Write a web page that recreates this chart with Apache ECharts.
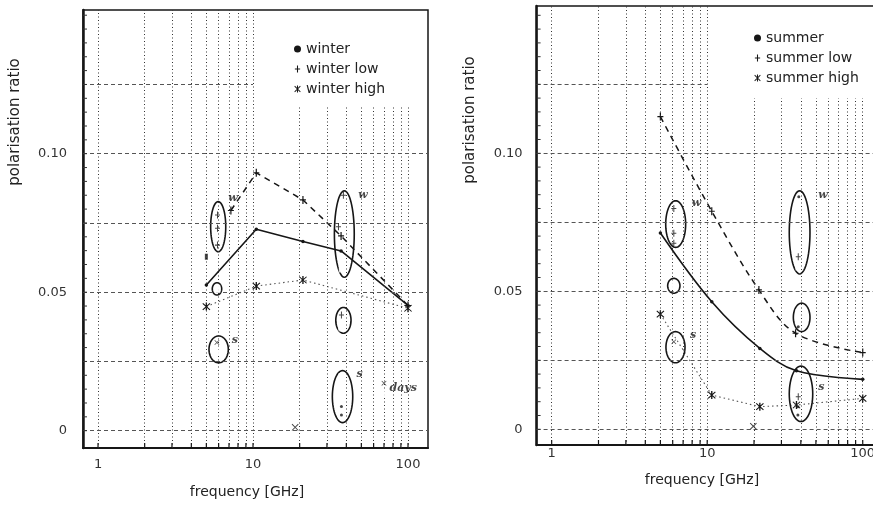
<!DOCTYPE html>
<html>
<head>
<meta charset="utf-8">
<title>Polarisation ratio vs frequency</title>
<script src="https://cdn.jsdelivr.net/npm/echarts@6/dist/echarts.min.js"></script>
<style>
  html, body { margin: 0; padding: 0; background: #fff; }
  #chart { width: 873px; height: 505px; }
</style>
</head>
<body>
<div id="chart"></div>
<script>
// ---- axes ----
const freqLabels = [1, 10, 100];
const freqGrid = [1, 2, 3, 4, 5, 6, 7, 8, 9, 10, 20, 30, 40, 50, 60, 70, 80, 90, 100];
const ratioLabels = [0, 0.05, 0.10];
const ratioGrid = [0, 0.025, 0.05, 0.075, 0.10, 0.125];

// ---- winter panel ----
const winter = [[5, 0.0526], [10.5, 0.0727], [21, 0.0683], [37, 0.0649], [100, 0.0452]];
const winterLow = [[7.2, 0.0795], [10.5, 0.0931], [21, 0.0833], [37, 0.0703], [100, 0.0452]];
const winterLowExtra = [[5, 0.0628]];
const winterHigh = [[5, 0.0448], [10.5, 0.0522], [21, 0.0544], [100, 0.0442]];
const winterHighExtra = [[18.7, 0.0012]];

// individual cases marked inside the hand-drawn rings
const winterCasePlus = [[5.9, 0.0779], [5.9, 0.0731], [5.9, 0.0670], [35.6, 0.0736], [38.3, 0.0850], [37.2, 0.0418]];
const winterCaseBox = [[5.9, 0.0512], [37.3, 0.0586], [37.2, 0.0193]];
const winterCaseCross = [[5.85, 0.0318], [70, 0.0171]];
const winterCaseRing = [[5.85, 0.0282], [37.2, 0.0370], [37.2, 0.0113], [70, 0.0131]];
const winterCaseDot = [[37.2, 0.0087], [37.2, 0.0057]];
// rings: [f left, f right, ratio bottom, ratio top]
const winterRings = [
  [5.33, 6.67, 0.0646, 0.0827],
  [5.46, 6.28, 0.0490, 0.0534],
  [5.20, 6.93, 0.0245, 0.0342],
  [33.5, 45.0, 0.0554, 0.0866],
  [34.2, 42.9, 0.0352, 0.0445],
  [32.5, 44.0, 0.0029, 0.0217]
];
const winterNotes = [[6.93, 0.0839, 'w'], [7.3, 0.0327, 's'], [47.8, 0.0851, 'w'], [46.6, 0.0205, 's'], [76, 0.0153, 'days']];

// ---- summer panel ----
const summer = [[5, 0.0711], [10.7, 0.0462], [21.8, 0.0293], [37.5, 0.0212], [100, 0.0181]];
const summerLow = [[5, 0.1133], [10.7, 0.0790], [21.5, 0.0505], [37, 0.0348], [100, 0.0278]];
const summerHigh = [[5, 0.0417], [10.7, 0.0124], [21.8, 0.0082], [37.5, 0.0088], [100, 0.0112]];
const summerHighExtra = [[19.8, 0.0011]];

const summerCasePlus = [[6.1, 0.0800], [6.1, 0.0710], [6.1, 0.0674], [38.5, 0.0625], [38.5, 0.0118]];
const summerCaseBox = [[6.1, 0.0523], [38.5, 0.0592], [38.5, 0.0420]];
const summerCaseCross = [[6.1, 0.0317]];
const summerCaseRing = [[6.1, 0.0287]];
const summerCaseDot = [[38.8, 0.0843], [38.5, 0.0372], [38.3, 0.0082], [38.3, 0.0052]];
const summerRings = [
  [5.41, 7.27, 0.0659, 0.0828],
  [5.57, 6.68, 0.0493, 0.0547],
  [5.43, 7.20, 0.0241, 0.0354],
  [33.7, 45.8, 0.0563, 0.0864],
  [35.8, 45.8, 0.0354, 0.0457],
  [33.7, 47.7, 0.0028, 0.0229]
];
const summerNotes = [[7.95, 0.0819, 'w'], [7.76, 0.0342, 's'], [51.8, 0.0849, 'w'], [51.8, 0.0154, 's']];

// ---- styling ----
const FONT = 'DejaVu Sans';
const INK = '#161616';
const X_MIN = 0.8, X_MAX = 134.6;

const plusIcon = 'path://M-0.6,-4h1.2v8h-1.2zM-3,-0.6h6v1.2h-6z';
const starIcon = 'path://M-0.6,-4h1.2v8h-1.2zM-3.6,-2.9L-2.9,-3.6L3.6,2.9L2.9,3.6zM2.9,-3.6L3.6,-2.9L-2.9,3.6L-3.6,2.9z';
const crossIcon = 'path://M-3.6,-2.9L-2.9,-3.6L3.6,2.9L2.9,3.6zM2.9,-3.6L3.6,-2.9L-2.9,3.6L-3.6,2.9z';

const panels = [
  { grid: { left: 83, top: 10, width: 345, height: 438 }, yMin: -0.00625, yMax: 0.15188, topV: 0.117, xMargin: 10, yMargin: 16 },
  { grid: { left: 536.6, top: 6, width: 346.2, height: 439 }, yMin: -0.00569, yMax: 0.15337, topV: 0.12, xMargin: 2, yMargin: 14 }
];

// minor ratio ticks every 0.005 along the left edge
const minorRatioTicks = [];
for (let i = 0; i <= 30; i++) minorRatioTicks.push(+(i * 0.005).toFixed(3));

function isDecade(v) {
  const l = Math.log10(v);
  return v >= 1 && Math.abs(l - Math.round(l)) < 1e-6;
}

function gridMarkLines(p) {
  const vStyle = { color: '#333', width: 1, type: [1, 2.5] };
  const hStyle = { color: '#555', width: 1, type: [4, 3] };
  const data = [];
  freqGrid.forEach(f => {
    if (f >= 20) data.push([{ coord: [f, p.yMin], lineStyle: vStyle }, { coord: [f, p.topV], lineStyle: vStyle }]);
    else data.push({ xAxis: f, lineStyle: vStyle });
  });
  ratioGrid.forEach(v => {
    if (v > 0.12) data.push([{ coord: [X_MIN, v], lineStyle: hStyle }, { coord: [10, v], lineStyle: hStyle }]);
    else data.push({ yAxis: v, lineStyle: hStyle });
  });
  return { silent: true, precision: 6, symbol: ['none', 'none'], label: { show: false }, animation: false, data };
}

function ringSeries(idx, rings) {
  return {
    type: 'custom', xAxisIndex: idx, yAxisIndex: idx, silent: true, z: 4,
    encode: { x: [0, 1], y: [2, 3] },
    data: rings,
    renderItem: (params, api) => {
      const a = api.coord([api.value(0), api.value(2)]);
      const b = api.coord([api.value(1), api.value(3)]);
      const cx = (a[0] + b[0]) / 2, cy = (a[1] + b[1]) / 2;
      const rx = Math.abs(b[0] - a[0]) / 2, ry = Math.abs(b[1] - a[1]) / 2;
      const pts = [];
      for (let k = 0; k < 60; k++) {
        const t = (k / 60) * Math.PI * 2;
        pts.push([cx + rx * Math.cos(t), cy + ry * Math.sin(t)]);
      }
      return { type: 'polygon', shape: { points: pts }, style: { fill: 'none', stroke: INK, lineWidth: 1.6 } };
    }
  };
}

// short inward ticks on the frequency axis
function freqTickSeries(idx, p) {
  return {
    type: 'custom', xAxisIndex: idx, yAxisIndex: idx, silent: true, z: 5,
    encode: { x: 0, y: 1 },
    data: freqGrid.map(f => [f, p.yMin]),
    renderItem: (params, api) => {
      const q = api.coord([api.value(0), api.value(1)]);
      return { type: 'line', shape: { x1: q[0], y1: q[1], x2: q[0], y2: q[1] - 5 }, style: { stroke: INK, lineWidth: 1.2 } };
    }
  };
}

// short inward ticks on the ratio axis
function ratioTickSeries(idx) {
  return {
    type: 'custom', xAxisIndex: idx, yAxisIndex: idx, silent: true, z: 5,
    encode: { x: 0, y: 1 },
    data: minorRatioTicks.map(v => [X_MIN, v]),
    renderItem: (params, api) => {
      const q = api.coord([api.value(0), api.value(1)]);
      return { type: 'line', shape: { x1: q[0], y1: q[1], x2: q[0] + 4, y2: q[1] }, style: { stroke: '#333', lineWidth: 1 } };
    }
  };
}

function caseSeries(idx, name, data, symbol, size, hollow) {
  return {
    type: 'scatter', name, xAxisIndex: idx, yAxisIndex: idx, data, symbol, symbolSize: size, silent: true, z: 5,
    itemStyle: hollow ? { color: '#fff', borderColor: INK, borderWidth: 1.3 } : { color: INK }
  };
}

function noteSeries(idx, data) {
  return {
    type: 'scatter', xAxisIndex: idx, yAxisIndex: idx, data, symbolSize: 0, silent: true, z: 6,
    label: {
      show: true, position: 'right', distance: 0,
      formatter: p => p.data[2],
      fontFamily: 'DejaVu Serif', fontStyle: 'italic', fontWeight: 'bold', fontSize: 11, color: INK
    }
  };
}

function mainLine(idx, name, data, lineStyle, symbol, size, smooth, extra) {
  return Object.assign({
    type: 'line', name, xAxisIndex: idx, yAxisIndex: idx, data, smooth: smooth || false,
    symbol, symbolSize: size, showSymbol: true, z: 3,
    lineStyle, itemStyle: { color: INK }
  }, extra || {});
}

const titleFont = '15px "DejaVu Sans"';

const option = {
  animation: false,
  backgroundColor: '#fff',
  grid: panels.map(p => Object.assign({
    show: true, borderColor: INK, borderWidth: 1.5, backgroundColor: 'transparent',
    containLabel: false, outerBoundsMode: 'none'
  }, p.grid)),
  xAxis: panels.map((p, i) => ({
    type: 'log', gridIndex: i, min: X_MIN, max: X_MAX, logBase: 10,
    axisLine: { show: true, onZero: false, lineStyle: { color: INK, width: 2 } },
    axisTick: { show: false },
    splitLine: { show: false },
    axisLabel: {
      margin: p.xMargin, color: '#333', fontFamily: FONT, fontSize: 13,
      formatter: v => (isDecade(v) && freqLabels.indexOf(Math.round(v)) >= 0 ? String(Math.round(v)) : '')
    }
  })),
  yAxis: panels.map((p, i) => ({
    type: 'value', gridIndex: i, min: p.yMin, max: p.yMax,
    axisLine: { show: true, onZero: false, lineStyle: { color: INK, width: 2.5 } },
    axisTick: { show: false },
    splitLine: { show: false },
    axisLabel: {
      customValues: ratioLabels, margin: p.yMargin, color: '#333', fontFamily: FONT, fontSize: 13,
      padding: [0, 0, 14, 0],
      formatter: v => (Math.abs(v) < 1e-9 ? '0' : v.toFixed(2))
    }
  })),
  legend: [
    {
      orient: 'vertical', left: 289, top: 37, itemWidth: 7, itemHeight: 7, itemGap: 6, selectedMode: false,
      textStyle: { fontFamily: FONT, fontSize: 14, color: '#222' },
      data: [{ name: 'winter', icon: 'circle' }, { name: 'winter low', icon: plusIcon }, { name: 'winter high', icon: starIcon }]
    },
    {
      orient: 'vertical', left: 749, top: 26, itemWidth: 7, itemHeight: 7, itemGap: 6, selectedMode: false,
      textStyle: { fontFamily: FONT, fontSize: 14, color: '#222' },
      data: [{ name: 'summer', icon: 'circle' }, { name: 'summer low', icon: plusIcon }, { name: 'summer high', icon: starIcon }]
    }
  ],
  graphic: [
    { type: 'text', x: 15, y: 122, rotation: Math.PI / 2, style: { text: 'polarisation ratio', font: titleFont, fill: '#222', align: 'center', verticalAlign: 'middle' } },
    { type: 'text', x: 470, y: 120, rotation: Math.PI / 2, style: { text: 'polarisation ratio', font: titleFont, fill: '#222', align: 'center', verticalAlign: 'middle' } },
    { type: 'text', x: 247, y: 492, style: { text: 'frequency [GHz]', font: '14px "DejaVu Sans"', fill: '#222', align: 'center', verticalAlign: 'middle' } },
    { type: 'text', x: 702, y: 480, style: { text: 'frequency [GHz]', font: '14px "DejaVu Sans"', fill: '#222', align: 'center', verticalAlign: 'middle' } }
  ],
  series: [
    // winter panel
    mainLine(0, 'winter', winter, { color: INK, width: 1.6 }, 'circle', 3.5, false, { markLine: gridMarkLines(panels[0]) }),
    mainLine(0, 'winter low', winterLow, { color: INK, width: 1.5, type: [6, 5] }, plusIcon, [6, 8]),
    caseSeries(0, 'winter low', winterLowExtra, 'rect', [3, 6]),
    mainLine(0, 'winter high', winterHigh, { color: '#555', width: 1.1, type: [1.5, 3] }, starIcon, 8),
    caseSeries(0, 'winter high', winterHighExtra, crossIcon, 7),
    freqTickSeries(0, panels[0]),
    ratioTickSeries(0),
    ringSeries(0, winterRings),
    caseSeries(0, 'winter cases +', winterCasePlus, plusIcon, [5, 7]),
    caseSeries(0, 'winter cases box', winterCaseBox, 'emptyRect', [4, 6], true),
    caseSeries(0, 'winter cases x', winterCaseCross, crossIcon, 5),
    caseSeries(0, 'winter cases o', winterCaseRing, 'emptyCircle', 5, true),
    caseSeries(0, 'winter cases dot', winterCaseDot, 'circle', 3),
    noteSeries(0, winterNotes),
    // summer panel
    mainLine(1, 'summer', summer, { color: INK, width: 1.6 }, 'circle', 3.5, 0.35, { markLine: gridMarkLines(panels[1]) }),
    mainLine(1, 'summer low', summerLow, { color: INK, width: 1.5, type: [6, 5] }, plusIcon, [6, 8], 0.35),
    mainLine(1, 'summer high', summerHigh, { color: '#555', width: 1.1, type: [1.5, 3] }, starIcon, 8),
    caseSeries(1, 'summer high', summerHighExtra, crossIcon, 7),
    freqTickSeries(1, panels[1]),
    ratioTickSeries(1),
    ringSeries(1, summerRings),
    caseSeries(1, 'summer cases +', summerCasePlus, plusIcon, [5, 7]),
    caseSeries(1, 'summer cases box', summerCaseBox, 'emptyRect', [4, 6], true),
    caseSeries(1, 'summer cases x', summerCaseCross, crossIcon, 5),
    caseSeries(1, 'summer cases o', summerCaseRing, 'emptyCircle', 5, true),
    caseSeries(1, 'summer cases dot', summerCaseDot, 'circle', 3),
    noteSeries(1, summerNotes)
  ]
};

const chart = echarts.init(document.getElementById('chart'));
chart.setOption(option);
</script>
</body>
</html>
